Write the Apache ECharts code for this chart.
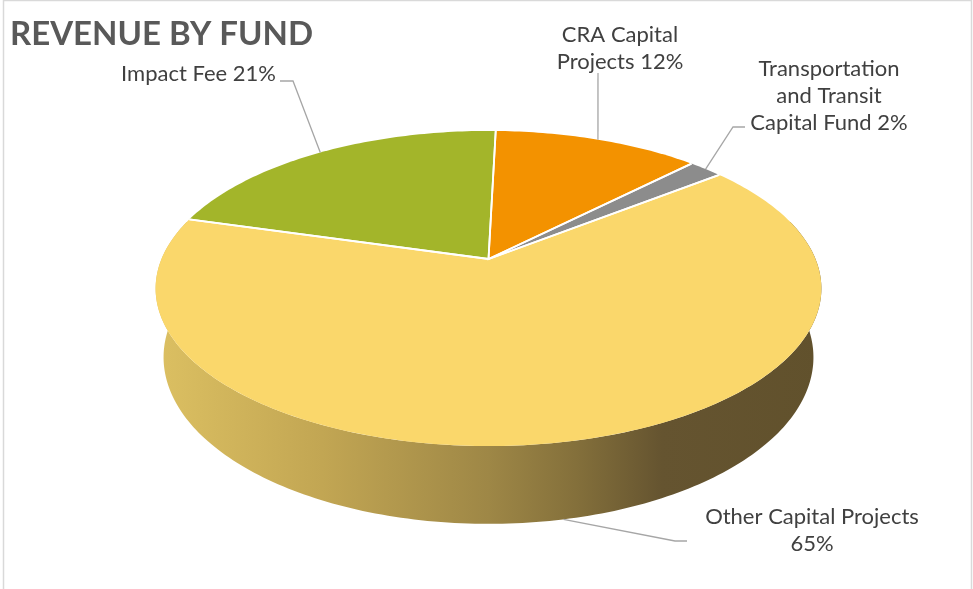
<!DOCTYPE html>
<html>
<head>
<meta charset="utf-8">
<script src="https://cdn.jsdelivr.net/npm/echarts@6/dist/echarts.min.js"></script>
<style>
  html, body { margin: 0; padding: 0; background: #ffffff; }
  #chart { width: 973px; height: 589px; }
</style>
</head>
<body>
<div id="chart"></div>
<script>
// Revenue by fund, shares in percent, in clockwise order from 12 o'clock
const funds = ['CRA Capital Projects', 'Transportation and Transit Capital Fund', 'Other Capital Projects', 'Impact Fee'];
const shares = [12, 2, 65, 21];
// How each label wraps on the page
const labelNames = ['CRA Capital\nProjects', 'Transportation\nand Transit\nCapital Fund', 'Other Capital Projects', 'Impact Fee'];
const labelJoin = [' ', ' ', '\n', ' '];

const sliceColors = ['#f39200', '#8c8c8c', '#fad76b', '#a3b52a'];
const FONT = 'Lato, "DejaVu Sans", sans-serif';

// Tilted-disc projection: angle in degrees clockwise from the far point, h = height (0 = top face)
const P = { cx: 488.5, cy: 259, S: 327, sinA: 0.465, d: 4.73, t: 0.24, start: 1.5 };
P.cosA = Math.sqrt(1 - P.sinA * P.sinA);
function project(deg, h) {
  const a = deg * Math.PI / 180;
  const u = Math.sin(a), v = -Math.cos(a);
  const depth = v * P.cosA + h * P.sinA;
  const k = P.d / (P.d - depth);
  return [P.cx + P.S * u * k, P.cy + P.S * (v * P.sinA - h * P.cosA) * k];
}

const total = shares.reduce((s, v) => s + v, 0);
const cumStart = [];
shares.reduce((acc, v, i) => { cumStart[i] = acc; return acc + v; }, 0);
function sliceAngles(i, value) {
  const a0 = P.start + cumStart[i] / total * 360;
  return [a0, a0 + value / total * 360];
}
function arc(a0, a1, h) {
  const pts = [];
  const n = Math.max(2, Math.ceil(Math.abs(a1 - a0)));
  for (let k = 0; k <= n; k++) pts.push(project(a0 + (a1 - a0) * k / n, h));
  return pts;
}

// Front wall shading, light on the left to dark on the right
const wallFill = new echarts.graphic.LinearGradient(155, 0, 822, 0, [
  { offset: 0, color: '#dcc062' },
  { offset: 0.25, color: '#c2a653' },
  { offset: 0.5, color: '#9e8746' },
  { offset: 0.63, color: '#84703b' },
  { offset: 0.76, color: '#655430' },
  { offset: 1, color: '#61512c' }
], true);

function renderWall(params, api) {
  const i = params.dataIndex;
  let [a0, a1] = sliceAngles(i, api.value(0));
  a0 = Math.max(a0, 75); a1 = Math.min(a1, 285);
  if (a1 <= a0) return { type: 'group', children: [] };
  const pts = arc(a0, a1, 0).concat(arc(a1, a0, -P.t));
  return { type: 'polygon', shape: { points: pts }, style: { fill: wallFill, stroke: null } };
}

function renderTop(params, api) {
  const i = params.dataIndex;
  const [a0, a1] = sliceAngles(i, api.value(0));
  const rim = arc(a0, a1, 0);
  return {
    type: 'group',
    children: [
      { type: 'polygon', shape: { points: [[P.cx, P.cy]].concat(rim) }, style: { fill: sliceColors[i], stroke: null } },
      {
        type: 'polyline', z2: 5,
        shape: { points: [rim[0], [P.cx, P.cy], rim[rim.length - 1]] },
        style: { stroke: '#ffffff', lineWidth: 1.8, fill: null, lineJoin: 'miter' }
      }
    ]
  };
}

// Leader line bends and label anchors on the page
const labelLayout = [
  { h: 0, bends: [[598, 73]], tx: 620, ty: 48, align: 'center' },
  { h: 0, bends: [[733, 127], [745, 127]], tx: 829, ty: 96, align: 'center' },
  { h: -1, bends: [[675, 541], [687, 541]], tx: 812, ty: 530, align: 'center' },
  { h: 0, bends: [[293, 81], [280, 81]], tx: 276, ty: 74, align: 'right' }
];

function renderLabel(params, api) {
  const i = params.dataIndex;
  const value = api.value(0);
  const [a0, a1] = sliceAngles(i, value);
  const L = labelLayout[i];
  const anchor = project((a0 + a1) / 2, L.h < 0 ? -P.t : 0);
  const pct = Math.round(value / total * 100);
  return {
    type: 'group',
    children: [
      {
        type: 'polyline',
        shape: { points: [anchor].concat(L.bends) },
        style: { stroke: '#a6a6a6', lineWidth: 1.3, fill: null }
      },
      {
        type: 'text',
        x: L.tx, y: L.ty,
        style: {
          text: labelNames[i] + labelJoin[i] + pct + '%',
          fill: '#404040',
          font: '22px ' + FONT,
          lineHeight: 27,
          textAlign: L.align,
          textVerticalAlign: 'middle'
        }
      }
    ]
  };
}

const seriesData = shares.map((v, i) => ({ name: funds[i], value: [v] }));

const chart = echarts.init(document.getElementById('chart'), null, { renderer: 'canvas' });
chart.setOption({
  animation: false,
  backgroundColor: '#ffffff',
  title: {
    text: 'REVENUE BY FUND',
    left: 5, top: 13,
    textStyle: { fontFamily: 'Lato, sans-serif', fontWeight: 'bold', fontSize: 33, color: '#595959' }
  },
  graphic: [{
    type: 'rect', silent: true, z: 0,
    shape: { x: 3.5, y: 0.5, width: 968, height: 620 },
    style: { fill: null, stroke: '#d9d9d9', lineWidth: 1.5 }
  }],
  series: [
    { type: 'custom', coordinateSystem: 'none', z: 1, silent: true, data: seriesData, renderItem: renderWall },
    { type: 'custom', coordinateSystem: 'none', z: 2, silent: true, data: seriesData, renderItem: renderTop },
    { type: 'custom', coordinateSystem: 'none', z: 3, silent: true, data: seriesData, renderItem: renderLabel }
  ]
});
</script>
</body>
</html>
